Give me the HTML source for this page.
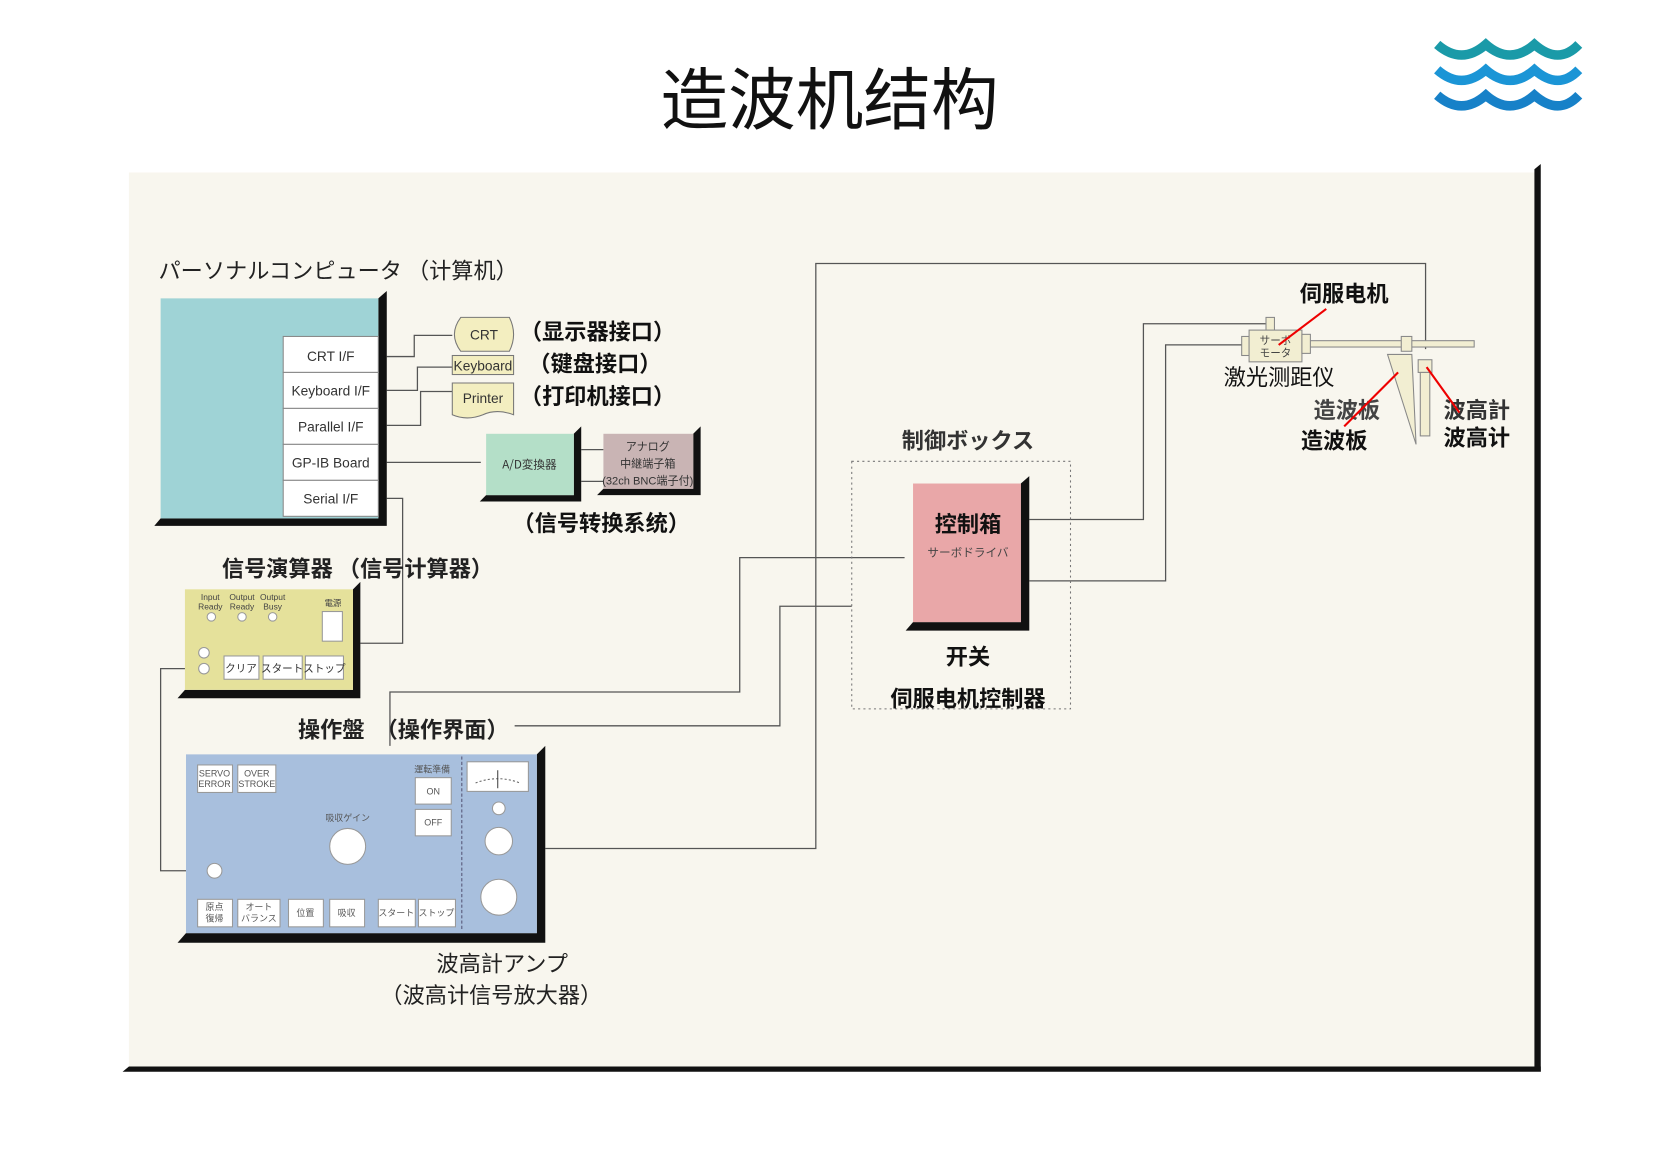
<!DOCTYPE html>
<html><head><meta charset="utf-8"><style>
html,body{margin:0;padding:0;background:#fff;}
svg{display:block}
text{font-family:"Liberation Sans","Noto Sans CJK SC",sans-serif;}
.cj{font-family:"Noto Sans CJK SC","WenQuanYi Zen Hei",sans-serif;}
</style></head><body>
<svg width="1657" height="1167" viewBox="0 0 1568 1103" preserveAspectRatio="none" xmlns="http://www.w3.org/2000/svg">
<rect width="1568" height="1103" fill="#fff"/>
<text x="785" y="117" text-anchor="middle" class="cj" font-size="64" fill="#111">造波机结构</text>
<g fill="none" stroke-width="9">
<path d="M1360 42 Q1383 62 1406 42 Q1429 62 1452 42 Q1475 62 1494 42" stroke="#1a9aa8"/>
<path d="M1360 66 Q1383 86 1406 66 Q1429 86 1452 66 Q1475 86 1494 66" stroke="#1b95d6"/>
<path d="M1360 90 Q1383 110 1406 90 Q1429 110 1452 90 Q1475 110 1494 90" stroke="#1781c8"/>
</g>
<rect x="122" y="163" width="1332" height="846" fill="#f8f6ee"/>
<polygon points="1452,160 1458,155 1458,1013 1452,1008" fill="#111"/>
<polygon points="116,1013 122,1008 1458,1008 1458,1013" fill="#111"/>

<g stroke="#555" stroke-width="1.2" fill="none">
<polyline points="366,337 392,337 392,317 428,317"/>
<polyline points="366,369 395,369 395,347 428,347"/>
<polyline points="366,402 398,402 398,370 428,370"/>
<line x1="366" y1="437" x2="455" y2="437"/>
<polyline points="366,471 381,471 381,608 341,608"/>
<line x1="550" y1="425" x2="571" y2="425"/>
<line x1="550" y1="455" x2="571" y2="455"/>
<polyline points="192,632 152,632 152,823 203,823"/>
<polyline points="516,802 772,802 772,249 1349,249 1349,330"/>
<polyline points="369,705 369,654 700,654 700,527 856,527"/>
<polyline points="487,686 738,686 738,573 806,573"/>
<polyline points="974,491 1082,491 1082,306 1198,306"/>
<polyline points="974,549 1103,549 1103,326 1175,326"/>
</g>

<text x="150" y="263" font-size="21" class="cj" fill="#222">パーソナルコンピュータ （计算机）</text>
<polygon points="358,282 366,275 366,497 146,497 152,490 358,490" fill="#111"/>
<rect x="152" y="282" width="206" height="208" fill="#9fd3d6"/>
<g fill="#fff" stroke="#888" stroke-width="1">
<rect x="268" y="318" width="90" height="34"/><rect x="268" y="352" width="90" height="34"/>
<rect x="268" y="386" width="90" height="34"/><rect x="268" y="420" width="90" height="34"/>
<rect x="268" y="454" width="90" height="34"/>
</g>
<g font-size="13" fill="#333" text-anchor="middle">
<text x="313" y="341">CRT I/F</text><text x="313" y="374">Keyboard I/F</text>
<text x="313" y="408">Parallel I/F</text><text x="313" y="442">GP-IB Board</text>
<text x="313" y="476">Serial I/F</text>
</g>
<path d="M436 300 H482 Q490 316 482 332 H436 Q424 316 436 300Z" fill="#f3eec0" stroke="#777"/>
<rect x="428" y="336" width="58" height="18" fill="#f3eec0" stroke="#777"/>
<path d="M428 362 H486 V392 Q470 386 457 392 Q442 398 428 392Z" fill="#f3eec0" stroke="#777"/>
<g font-size="13" fill="#333" text-anchor="middle">
<text x="458" y="321">CRT</text><text x="457" y="350">Keyboard</text><text x="457" y="381">Printer</text>
</g>
<g font-size="21" font-weight="bold" class="cj" fill="#111">
<text x="492" y="321">（显示器接口）</text>
<text x="500" y="351">（键盘接口）</text>
<text x="492" y="382">（打印机接口）</text>
<text x="485" y="502">（信号转换系统）</text>
</g>
<polygon points="543,410 550,403 550,474 454,474 460,468 543,468" fill="#111"/>
<rect x="460" y="410" width="83" height="58" fill="#b4dfc8"/>
<text x="501" y="443" font-size="11" text-anchor="middle" class="cj" fill="#333">A/D変換器</text>
<polygon points="656,410 663,403 663,468 565,468 571,462 656,462" fill="#111"/>
<rect x="571" y="410" width="85" height="52" fill="#c9b4b4"/>
<g font-size="10.5" text-anchor="middle" class="cj" fill="#333">
<text x="613" y="426">アナログ</text><text x="613" y="442">中継端子箱</text><text x="613" y="458">(32ch BNC端子付)</text>
</g>
<text x="210" y="545" font-size="21" font-weight="bold" class="cj" fill="#222">信号演算器 （信号计算器）</text>
<polygon points="334,557 341,550 341,660 168,660 175,652 334,652" fill="#111"/>
<rect x="175" y="557" width="159" height="95" fill="#e5e19b"/>
<g font-size="8" text-anchor="middle" fill="#444">
<text x="199" y="567">Input</text><text x="199" y="576">Ready</text>
<text x="229" y="567">Output</text><text x="229" y="576">Ready</text>
<text x="258" y="567">Output</text><text x="258" y="576">Busy</text>
<text x="315" y="573" class="cj">電源</text>
</g>
<g fill="#fff" stroke="#999">
<circle cx="200" cy="583" r="4"/><circle cx="229" cy="583" r="4"/><circle cx="258" cy="583" r="4"/>
<circle cx="193" cy="617" r="5"/><circle cx="193" cy="632" r="5"/>
<rect x="305" y="578" width="19" height="28"/>
<rect x="212" y="620" width="33" height="22"/><rect x="249" y="620" width="37" height="22"/><rect x="289" y="620" width="36" height="22"/>
</g>
<g font-size="10" text-anchor="middle" class="cj" fill="#333">
<text x="228" y="635">クリア</text><text x="267" y="635">スタート</text><text x="307" y="635">ストップ</text>
</g>
<text x="282" y="697" font-size="21" font-weight="bold" class="cj" fill="#222">操作盤　（操作界面）</text>
<polygon points="508,713 516,705 516,891 168,891 176,882 508,882" fill="#111"/>
<rect x="176" y="713" width="332" height="169" fill="#a8bfdd"/>
<line x1="437" y1="715" x2="437" y2="880" stroke="#557" stroke-dasharray="3,2"/>
<g fill="#fff" stroke="#999">
<rect x="187" y="723" width="33" height="26"/><rect x="225" y="723" width="36" height="26"/>
<rect x="393" y="735" width="34" height="25"/><rect x="393" y="765" width="34" height="25"/>
<rect x="442" y="720" width="58" height="28"/>
<circle cx="329" cy="800" r="17"/><circle cx="203" cy="823" r="7"/>
<circle cx="472" cy="764" r="6"/><circle cx="472" cy="795" r="13"/><circle cx="472" cy="848" r="17"/>
<rect x="187" y="850" width="33" height="26"/><rect x="225" y="850" width="40" height="26"/>
<rect x="273" y="850" width="33" height="26"/><rect x="312" y="850" width="33" height="26"/>
<rect x="358" y="850" width="35" height="26"/><rect x="396" y="850" width="35" height="26"/>
</g>
<path d="M450 740 Q471 732 492 740" stroke="#666" fill="none" stroke-dasharray="2,2"/>
<line x1="471" y1="728" x2="471" y2="745" stroke="#444"/>
<g font-size="8.5" text-anchor="middle" class="cj" fill="#555">
<text x="203" y="734">SERVO</text><text x="203" y="744">ERROR</text>
<text x="243" y="734">OVER</text><text x="243" y="744">STROKE</text>
<text x="409" y="730">運転準備</text><text x="410" y="751">ON</text><text x="410" y="780">OFF</text>
<text x="329" y="776">吸収ゲイン</text>
<text x="203" y="860">原点</text><text x="203" y="871">復帰</text>
<text x="245" y="860">オート</text><text x="245" y="871">バランス</text>
<text x="289" y="866">位置</text><text x="328" y="866">吸収</text>
<text x="375" y="866">スタート</text><text x="413" y="866">ストップ</text>
</g>
<g font-size="21" class="cj" fill="#222">
<text x="413" y="918">波高計アンプ</text>
<text x="360" y="948">（波高计信号放大器）</text>
</g>
<rect x="806" y="436" width="207" height="234" fill="none" stroke="#777" stroke-dasharray="2,3"/>
<polygon points="966,457 974,450 974,596 857,596 864,588 966,588" fill="#111"/>
<rect x="864" y="457" width="102" height="131" fill="#e9a7a8"/>
<g class="cj" text-anchor="middle" fill="#111">
<text x="916" y="424" font-size="21" font-weight="bold" fill="#333">制御ボックス</text>
<text x="916" y="503" font-size="21" font-weight="bold">控制箱</text>
<text x="916" y="526" font-size="11" fill="#444">サーボドライバ</text>
<text x="916" y="628" font-size="21" font-weight="bold">开关</text>
<text x="916" y="668" font-size="21" font-weight="bold">伺服电机控制器</text>
</g>
<g fill="#f2eed2" stroke="#888">
<rect x="1232" y="322" width="163" height="6"/>
<rect x="1198" y="300" width="8" height="14"/>
<rect x="1175" y="318" width="7" height="18"/>
<rect x="1182" y="312" width="50" height="30"/>
<rect x="1232" y="316" width="8" height="18"/>
<rect x="1326" y="318" width="10" height="14"/>
<polygon points="1313,335 1336,335 1340,420"/>
<rect x="1342" y="340" width="13" height="12"/>
<rect x="1344" y="352" width="9" height="60"/>
</g>
<g font-size="10" class="cj" fill="#444" text-anchor="middle">
<text x="1207" y="325">サーボ</text><text x="1207" y="337">モータ</text>
</g>
<g font-size="21" class="cj" fill="#111">
<text x="1230" y="285" font-weight="bold">伺服电机</text>
<text x="1158" y="364">激光测距仪</text>
<text x="1243" y="395" font-weight="bold" fill="#444">造波板</text>
<text x="1231" y="424" font-weight="bold">造波板</text>
<text x="1366" y="395" font-weight="bold" fill="#333">波高計</text>
<text x="1366" y="421" font-weight="bold">波高计</text>
</g>
<g stroke="#e00" stroke-width="2">
<line x1="1255" y1="292" x2="1210" y2="326"/>
<line x1="1323" y1="352" x2="1272" y2="403"/>
<line x1="1350" y1="347" x2="1381" y2="390"/>
</g>
</svg>
</body></html>
